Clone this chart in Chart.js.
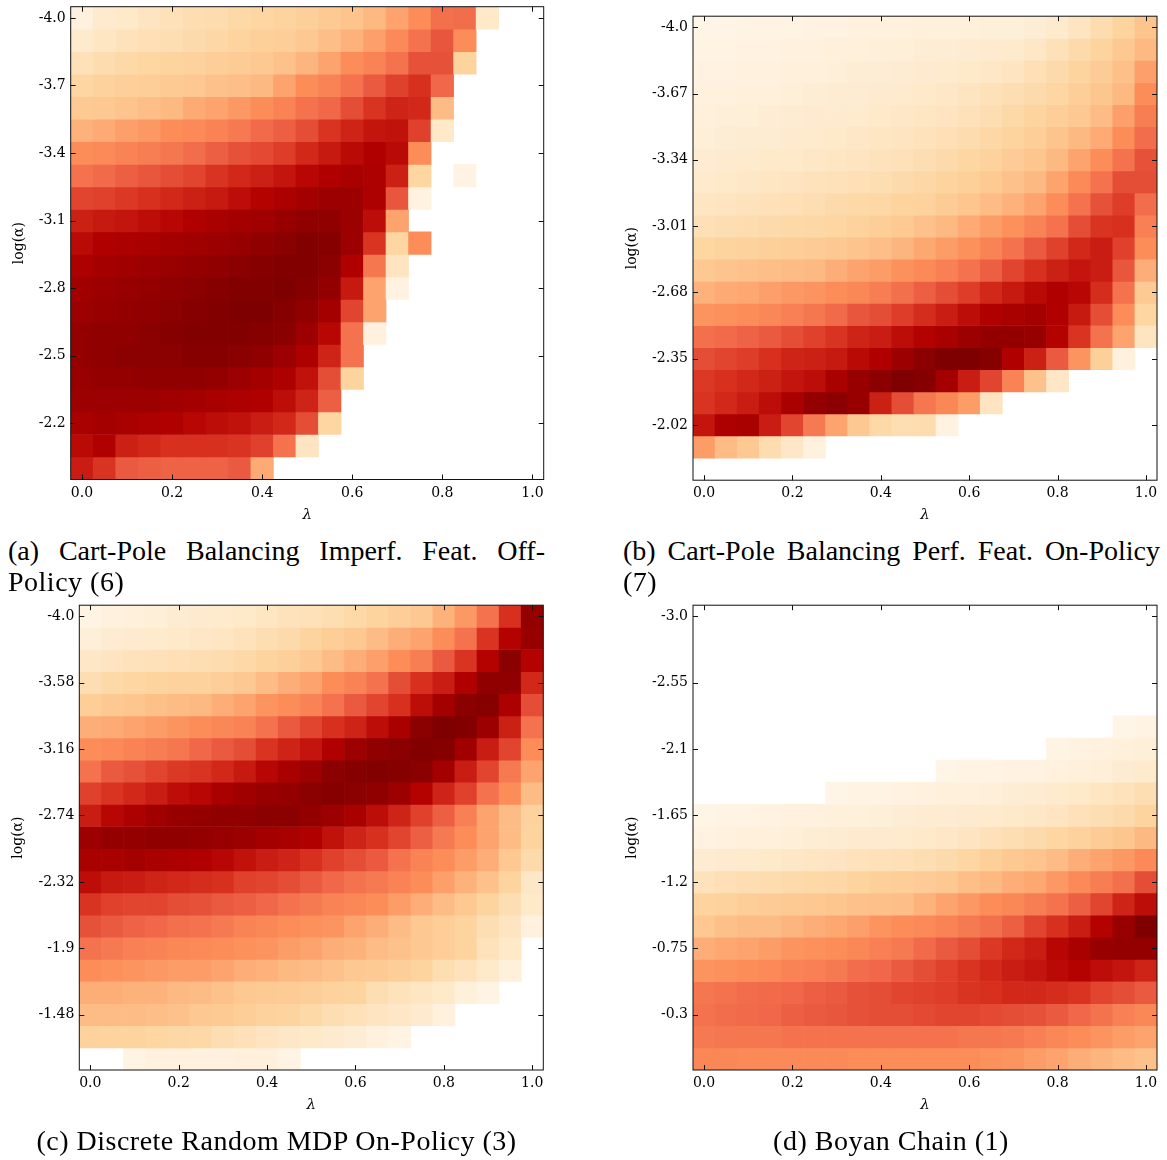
<!DOCTYPE html>
<html>
<head>
<meta charset="utf-8">
<script src="https://cdn.jsdelivr.net/npm/chart.js@4.4.1/dist/chart.umd.min.js"></script>
<style>
  body { margin: 0; background: #fff; width: 1167px; height: 1160px; position: relative; overflow: hidden; }
  canvas { position: absolute; }
  .cap { position: absolute; font-family: "Liberation Serif", "DejaVu Serif", serif; font-size: 28px; line-height: 31px; color: #000; white-space: nowrap; }
  .just { text-align: justify; text-align-last: justify; white-space: normal; }
  .wide { letter-spacing: 0.5px; }
</style>
</head>
<body>
<canvas id="panelA" width="580" height="535" style="left:0;top:0"></canvas>
<canvas id="panelB" width="567" height="535" style="left:600px;top:0"></canvas>
<canvas id="panelC" width="580" height="540" style="left:0;top:590px"></canvas>
<canvas id="panelD" width="567" height="540" style="left:600px;top:590px"></canvas>

<div class="cap just" style="left:8px;top:535px;width:537px">(a) Cart-Pole Balancing Imperf. Feat. Off-</div>
<div class="cap wide" style="left:8px;top:566px">Policy (6)</div>
<div class="cap just" style="left:623px;top:535px;width:537px">(b) Cart-Pole Balancing Perf. Feat. On-Policy</div>
<div class="cap wide" style="left:623px;top:566px">(7)</div>
<div class="cap wide" style="left:0;top:1125px;width:553px;text-align:center">(c) Discrete Random MDP On-Policy (3)</div>
<div class="cap wide" style="left:614px;top:1125px;width:554px;text-align:center">(d) Boyan Chain (1)</div>

<script>
// lambda values (columns), shared by all panels
const lambdas = [0.0, 0.05, 0.1, 0.15, 0.2, 0.25, 0.3, 0.35, 0.4, 0.45, 0.5,
  0.55, 0.6, 0.65, 0.7, 0.75, 0.8, 0.85, 0.9, 0.95, 1.0];
const lambdaTicks = [0.0, 0.2, 0.4, 0.6, 0.8, 1.0];

// cell values on a 0 (lightest) .. 100 (darkest) scale, null = no value
const _ = null;

// (a) Cart-Pole Balancing Imperf. Feat. Off-Policy
const alphaA = [-4.0, -3.9, -3.8, -3.7, -3.6, -3.5, -3.4, -3.3, -3.2, -3.1, -3.0,
  -2.9, -2.8, -2.7, -2.6, -2.5, -2.4, -2.3, -2.2, -2.1, -2.0];
const yLabelsA = ['-4.0', '-3.7', '-3.4', '-3.1', '-2.8', '-2.5', '-2.2'];
const valuesA = [
  [5, 10, 12, 15, 17, 19, 20, 22, 24, 25, 27, 30, 33, 38, 44, 50, 59, 60, 12, _, _],
  [11, 14, 16, 18, 19, 21, 23, 25, 27, 28, 31, 36, 40, 45, 51, 58, 66, 50, _, _, _],
  [17, 20, 22, 24, 25, 26, 28, 29, 31, 34, 39, 44, 50, 53, 58, 67, 67, 25, _, _, _],
  [24, 26, 27, 28, 30, 31, 34, 36, 38, 44, 50, 53, 58, 65, 71, 75, 62, _, _, _, _],
  [30, 31, 33, 36, 38, 42, 44, 47, 50, 53, 58, 62, 68, 74, 78, 77, 37, _, _, _, _],
  [40, 42, 45, 47, 50, 51, 53, 56, 61, 64, 68, 74, 78, 82, 83, 71, 12, _, _, _, _],
  [50, 51, 53, 55, 57, 60, 64, 67, 69, 72, 77, 81, 85, 88, 85, 50, _, _, _, _, _],
  [58, 61, 64, 66, 68, 70, 74, 77, 79, 82, 86, 88, 90, 89, 79, 24, _, 3, _, _, _],
  [70, 71, 73, 75, 77, 79, 81, 84, 87, 89, 91, 93, 93, 89, 66, 4, _, _, _, _, _],
  [79, 81, 82, 84, 86, 88, 90, 91, 92, 94, 96, 96, 93, 84, 44, _, _, _, _, _, _],
  [85, 88, 89, 90, 91, 92, 93, 94, 96, 97, 99, 98, 93, 74, 24, 50, _, _, _, _, _],
  [89, 91, 92, 93, 94, 95, 96, 97, 98, 99, 99, 97, 88, 57, 15, _, _, _, _, _, _],
  [92, 93, 94, 95, 96, 97, 98, 99, 99, 100, 98, 95, 81, 44, 4, _, _, _, _, _, _],
  [93, 94, 95, 96, 97, 98, 99, 100, 100, 98, 96, 91, 70, 44, _, _, _, _, _, _, _],
  [95, 96, 96, 97, 98, 99, 99, 99, 98, 97, 93, 86, 58, 5, _, _, _, _, _, _, _],
  [95, 96, 97, 97, 97, 98, 98, 97, 96, 93, 89, 78, 58, _, _, _, _, _, _, _, _],
  [94, 95, 95, 96, 96, 96, 95, 93, 91, 89, 83, 68, 25, _, _, _, _, _, _, _, _],
  [93, 93, 93, 93, 92, 91, 90, 89, 88, 84, 78, 64, _, _, _, _, _, _, _, _, _],
  [90, 91, 90, 89, 88, 86, 84, 83, 80, 77, 68, 24, _, _, _, _, _, _, _, _, _],
  [85, 88, 79, 77, 75, 75, 75, 74, 71, 58, 15, _, _, _, _, _, _, _, _, _, _],
  [80, 74, 65, 64, 63, 63, 63, 65, 42, _, _, _, _, _, _, _, _, _, _, _, _]
];

// (b) Cart-Pole Balancing Perf. Feat. On-Policy
const alphaB = [-4.0, -3.89, -3.78, -3.67, -3.56, -3.45, -3.34, -3.23, -3.12, -3.01, -2.9,
  -2.79, -2.68, -2.57, -2.46, -2.35, -2.24, -2.13, -2.02, -1.91, -1.8];
const yLabelsB = ['-4.0', '-3.67', '-3.34', '-3.01', '-2.68', '-2.35', '-2.02'];
const valuesB = [
  [2, 2, 3, 3, 3, 4, 4, 5, 5, 5, 6, 6, 6, 7, 7, 8, 11, 15, 20, 25, 33],
  [3, 3, 4, 4, 5, 5, 6, 6, 7, 7, 8, 8, 9, 10, 11, 13, 17, 21, 25, 31, 38],
  [4, 4, 5, 5, 6, 6, 7, 8, 8, 9, 10, 11, 12, 13, 15, 18, 21, 25, 29, 35, 45],
  [5, 5, 6, 6, 7, 8, 9, 9, 10, 11, 12, 13, 15, 17, 19, 21, 24, 28, 32, 38, 50],
  [6, 7, 7, 8, 9, 10, 10, 11, 12, 13, 14, 15, 17, 19, 22, 25, 28, 31, 37, 45, 55],
  [7, 8, 9, 9, 10, 11, 12, 13, 14, 15, 16, 18, 20, 23, 25, 28, 33, 38, 42, 50, 60],
  [9, 10, 11, 12, 12, 13, 14, 15, 16, 17, 19, 21, 24, 26, 29, 32, 38, 44, 50, 58, 67],
  [11, 12, 13, 14, 15, 16, 17, 18, 19, 21, 23, 25, 27, 30, 34, 38, 44, 51, 58, 68, 68],
  [14, 15, 16, 17, 18, 19, 21, 22, 23, 25, 26, 29, 32, 37, 40, 44, 50, 58, 67, 72, 60],
  [18, 19, 20, 21, 22, 23, 24, 26, 28, 30, 34, 38, 42, 46, 49, 53, 58, 68, 74, 75, 54],
  [24, 25, 26, 27, 28, 29, 31, 33, 36, 39, 43, 46, 49, 53, 58, 65, 71, 77, 80, 71, 50],
  [31, 33, 34, 36, 37, 38, 41, 44, 46, 49, 51, 54, 58, 64, 70, 75, 79, 82, 80, 66, 41],
  [40, 42, 43, 45, 47, 48, 50, 52, 55, 59, 64, 68, 72, 77, 81, 85, 88, 86, 76, 58, 30],
  [48, 49, 50, 52, 54, 57, 61, 66, 68, 72, 76, 80, 84, 88, 90, 91, 88, 81, 68, 50, 24],
  [59, 61, 63, 65, 68, 71, 74, 78, 80, 84, 87, 90, 93, 95, 95, 94, 87, 74, 58, 44, 15],
  [68, 70, 72, 75, 78, 79, 81, 85, 88, 93, 97, 100, 100, 98, 88, 79, 65, 48, 27, 5, _],
  [73, 75, 77, 79, 82, 84, 90, 94, 97, 100, 98, 91, 80, 70, 53, 34, 13, _, _, _, _],
  [74, 77, 80, 84, 90, 95, 97, 94, 79, 68, 57, 52, 46, 15, _, _, _, _, _, _, _],
  [82, 89, 90, 80, 70, 56, 44, 31, 22, 19, 20, 4, _, _, _, _, _, _, _, _, _],
  [46, 37, 31, 20, 13, 5, _, _, _, _, _, _, _, _, _, _, _, _, _, _, _],
  [_, _, _, _, _, _, _, _, _, _, _, _, _, _, _, _, _, _, _, _, _]
];

// (c) Discrete Random MDP On-Policy
const alphaC = [-4.0, -3.86, -3.72, -3.58, -3.44, -3.3, -3.16, -3.02, -2.88, -2.74, -2.6,
  -2.46, -2.32, -2.18, -2.04, -1.9, -1.76, -1.62, -1.48, -1.34, -1.2];
const yLabelsC = ['-4.0', '-3.58', '-3.16', '-2.74', '-2.32', '-1.9', '-1.48'];
const valuesC = [
  [3, 5, 6, 7, 9, 10, 11, 12, 14, 16, 17, 19, 22, 25, 28, 31, 40, 47, 58, 75, 95],
  [7, 9, 10, 11, 12, 13, 14, 16, 19, 21, 25, 28, 31, 37, 41, 44, 50, 58, 74, 87, 94],
  [13, 15, 16, 17, 18, 19, 20, 22, 25, 27, 31, 37, 41, 45, 50, 55, 65, 74, 87, 97, 87],
  [19, 22, 24, 25, 26, 26, 28, 31, 37, 41, 44, 50, 53, 58, 68, 75, 80, 88, 96, 96, 77],
  [28, 31, 32, 35, 37, 38, 41, 44, 48, 50, 53, 58, 65, 70, 75, 84, 91, 97, 98, 89, 68],
  [41, 42, 44, 46, 48, 50, 52, 53, 58, 65, 70, 75, 78, 84, 90, 97, 100, 99, 93, 79, 58],
  [50, 51, 53, 55, 57, 62, 65, 68, 74, 78, 82, 88, 93, 96, 97, 99, 98, 92, 80, 70, 50],
  [58, 65, 67, 70, 73, 74, 77, 81, 86, 90, 93, 97, 98, 99, 98, 97, 91, 80, 70, 56, 44],
  [71, 74, 77, 80, 84, 86, 90, 92, 94, 95, 97, 98, 97, 96, 93, 87, 78, 71, 58, 50, 37],
  [80, 86, 89, 92, 94, 95, 96, 96, 97, 97, 95, 93, 90, 84, 78, 71, 64, 54, 44, 37, 26],
  [93, 95, 95, 96, 96, 95, 94, 93, 91, 90, 88, 83, 78, 75, 70, 64, 56, 50, 44, 37, 25],
  [90, 90, 91, 90, 89, 88, 86, 83, 80, 78, 75, 71, 68, 65, 58, 53, 50, 46, 41, 31, 21],
  [84, 81, 80, 78, 77, 76, 75, 71, 70, 68, 65, 62, 58, 56, 53, 50, 45, 40, 34, 25, 13],
  [74, 71, 70, 70, 68, 67, 65, 64, 62, 58, 56, 53, 52, 50, 46, 41, 37, 31, 25, 19, 12],
  [67, 65, 63, 62, 59, 58, 56, 53, 52, 50, 49, 48, 44, 41, 37, 31, 28, 25, 19, 15, 5],
  [58, 56, 54, 53, 52, 51, 50, 49, 48, 46, 44, 41, 40, 37, 34, 31, 28, 25, 16, 12, _],
  [50, 49, 48, 47, 46, 46, 44, 41, 40, 38, 37, 34, 31, 30, 28, 25, 19, 16, 12, 6, _],
  [41, 41, 40, 40, 38, 37, 34, 31, 30, 29, 28, 26, 25, 19, 16, 14, 12, 6, 3, _, _],
  [37, 37, 37, 36, 34, 31, 30, 28, 26, 25, 22, 19, 17, 15, 13, 10, 5, _, _, _, _],
  [26, 25, 25, 24, 23, 22, 19, 17, 15, 13, 12, 10, 8, 5, 3, _, _, _, _, _, _],
  [_, _, 3, 5, 5, 5, 5, 6, 6, 3, _, _, _, _, _, _, _, _, _, _, _]
];

// (d) Boyan Chain
const alphaD = [-3.0, -2.85, -2.7, -2.55, -2.4, -2.25, -2.1, -1.95, -1.8, -1.65, -1.5,
  -1.35, -1.2, -1.05, -0.9, -0.75, -0.6, -0.45, -0.3, -0.15, 0.0];
const yLabelsD = ['-3.0', '-2.55', '-2.1', '-1.65', '-1.2', '-0.75', '-0.3'];
const valuesD = [
  [_, _, _, _, _, _, _, _, _, _, _, _, _, _, _, _, _, _, _, _, _],
  [_, _, _, _, _, _, _, _, _, _, _, _, _, _, _, _, _, _, _, _, _],
  [_, _, _, _, _, _, _, _, _, _, _, _, _, _, _, _, _, _, _, _, _],
  [_, _, _, _, _, _, _, _, _, _, _, _, _, _, _, _, _, _, _, _, _],
  [_, _, _, _, _, _, _, _, _, _, _, _, _, _, _, _, _, _, _, _, _],
  [_, _, _, _, _, _, _, _, _, _, _, _, _, _, _, _, _, _, _, 2, 3],
  [_, _, _, _, _, _, _, _, _, _, _, _, _, _, _, _, 3, 4, 5, 6, 7],
  [_, _, _, _, _, _, _, _, _, _, _, 2, 3, 3, 4, 4, 5, 6, 7, 9, 11],
  [_, _, _, _, _, _, 2, 3, 3, 4, 5, 6, 6, 7, 8, 9, 11, 12, 14, 16, 19],
  [2, 3, 3, 4, 5, 5, 6, 6, 7, 8, 9, 9, 10, 11, 12, 13, 15, 17, 19, 21, 25],
  [4, 5, 6, 6, 7, 8, 9, 10, 10, 11, 12, 13, 15, 17, 19, 21, 24, 26, 29, 32, 38],
  [9, 10, 11, 12, 13, 14, 15, 16, 17, 18, 19, 21, 24, 27, 31, 33, 37, 41, 44, 47, 51],
  [16, 18, 19, 20, 21, 22, 23, 25, 27, 28, 29, 31, 36, 38, 41, 43, 47, 51, 55, 59, 68],
  [25, 26, 28, 29, 30, 31, 32, 34, 35, 36, 40, 44, 47, 50, 52, 55, 58, 64, 70, 78, 84],
  [31, 35, 37, 37, 39, 41, 43, 45, 48, 50, 51, 53, 56, 59, 64, 70, 75, 80, 87, 94, 100],
  [41, 43, 44, 46, 48, 49, 50, 52, 54, 56, 61, 65, 68, 73, 77, 80, 86, 90, 94, 95, 95],
  [48, 49, 50, 51, 53, 54, 56, 60, 62, 65, 68, 71, 74, 77, 80, 82, 85, 87, 84, 82, 78],
  [57, 58, 60, 61, 62, 64, 65, 67, 68, 70, 71, 72, 74, 75, 77, 77, 76, 74, 70, 68, 65],
  [58, 60, 61, 62, 64, 65, 66, 67, 68, 68, 69, 70, 70, 69, 68, 67, 65, 62, 58, 54, 52],
  [56, 57, 57, 57, 58, 58, 58, 58, 58, 58, 58, 58, 57, 57, 56, 54, 52, 50, 48, 46, 44],
  [52, 52, 51, 51, 51, 51, 51, 50, 50, 50, 50, 50, 50, 49, 48, 46, 44, 41, 39, 37, 34]
];

// matplotlib OrRd anchors
const orRd = [[255, 247, 236], [254, 232, 200], [253, 212, 158], [253, 187, 132],
  [252, 141, 89], [239, 101, 72], [215, 48, 31], [179, 0, 0], [127, 0, 0]];

function cellColor(v) {
  const t = Math.max(0, Math.min(100, v)) / 100 * 8;
  const i = Math.min(7, Math.floor(t));
  const f = t - i;
  const c = orRd[i].map((x, k) => Math.round(x + (orRd[i + 1][k] - x) * f));
  return `rgb(${c[0]},${c[1]},${c[2]})`;
}

Chart.defaults.font.family = '"DejaVu Serif", serif';
Chart.defaults.font.size = 14;
Chart.defaults.color = '#000';

// frame and inward tick marks on all four sides
const frameTicks = {
  id: 'frameTicks',
  afterDraw(chart) {
    const { ctx, chartArea: a, scales: { x, y } } = chart;
    const len = 5;
    ctx.save();
    ctx.strokeStyle = '#111';
    ctx.lineWidth = 1;
    ctx.beginPath();
    x.ticks.forEach(t => {
      const px = Math.round(x.getPixelForValue(t.value)) + 0.5;
      ctx.moveTo(px, a.bottom); ctx.lineTo(px, a.bottom - len);
      ctx.moveTo(px, a.top); ctx.lineTo(px, a.top + len);
    });
    y.ticks.forEach(t => {
      const py = Math.round(y.getPixelForValue(t.value)) + 0.5;
      ctx.moveTo(a.left, py); ctx.lineTo(a.left + len, py);
      ctx.moveTo(a.right, py); ctx.lineTo(a.right - len, py);
    });
    ctx.stroke();
    ctx.strokeRect(a.left, a.top, a.right - a.left, a.bottom - a.top);
    ctx.restore();
  }
};

function heatmap(canvasId, alphas, values, yLabels, box) {
  const half = Math.abs(alphas[1] - alphas[0]) / 2;
  const canvas = document.getElementById(canvasId);

  // one floating-bar dataset per log(alpha) row
  const datasets = alphas.map((a, i) => ({
    data: lambdas.flatMap((lam, j) => {
      const v = values[i][j];
      return v === null ? [] : [{ x: lam, y: [a - half, a + half], v }];
    }),
    backgroundColor: ctx => (ctx.raw ? cellColor(ctx.raw.v) : 'transparent'),
    borderWidth: 0,
    barPercentage: 1,
    categoryPercentage: 1,
    grouped: false
  }));

  return new Chart(canvas, {
    type: 'bar',
    data: { datasets },
    plugins: [frameTicks],
    options: {
      responsive: false,
      animation: false,
      events: [],
      layout: {
        padding: { left: 0, top: box.top, right: canvas.width - box.right, bottom: 0 }
      },
      plugins: { legend: { display: false }, tooltip: { enabled: false } },
      scales: {
        x: {
          type: 'linear',
          offset: false,
          min: lambdas[0] - 0.025,
          max: lambdas[lambdas.length - 1] + 0.025,
          afterBuildTicks: s => { s.ticks = lambdaTicks.map(v => ({ value: v })); },
          afterFit: s => { s.height = canvas.height - box.bottom; s.paddingLeft = 0; s.paddingRight = 0; },
          ticks: { autoSkip: false, maxRotation: 0, padding: 5, callback: v => v.toFixed(1) },
          grid: { display: false, drawTicks: false },
          border: { display: false },
          title: { display: true, text: 'λ', font: { size: 15, style: 'italic' }, padding: { top: 0, bottom: box.xTitlePad } }
        },
        y: {
          type: 'linear',
          reverse: true,
          beginAtZero: false,
          min: alphas[0] - half,
          max: alphas[alphas.length - 1] + half,
          afterBuildTicks: s => { s.ticks = yLabels.map(l => ({ value: Number(l) })); },
          afterFit: s => { s.width = box.left; s.paddingTop = 0; s.paddingBottom = 0; },
          ticks: { autoSkip: false, padding: 5, callback: (v, i) => yLabels[i] },
          grid: { display: false, drawTicks: false },
          border: { display: false },
          title: { display: true, text: 'log(α)', font: { size: 14 }, padding: { top: box.yTitlePad, bottom: 0 } }
        }
      }
    }
  });
}

heatmap('panelA', alphaA, valuesA, yLabelsA, { left: 70.7, top: 6.7, right: 543.7, bottom: 479.5, yTitlePad: 10.6, xTitlePad: 11 });
heatmap('panelB', alphaB, valuesB, yLabelsB, { left: 93, top: 16.2, right: 557, bottom: 480.2, yTitlePad: 23.6, xTitlePad: 11 });
heatmap('panelC', alphaC, valuesC, yLabelsC, { left: 79.3, top: 15.2, right: 543.3, bottom: 480, yTitlePad: 9.6, xTitlePad: 16 });
heatmap('panelD', alphaD, valuesD, yLabelsD, { left: 93, top: 15.2, right: 557, bottom: 480, yTitlePad: 23.6, xTitlePad: 16 });
</script>
</body>
</html>
